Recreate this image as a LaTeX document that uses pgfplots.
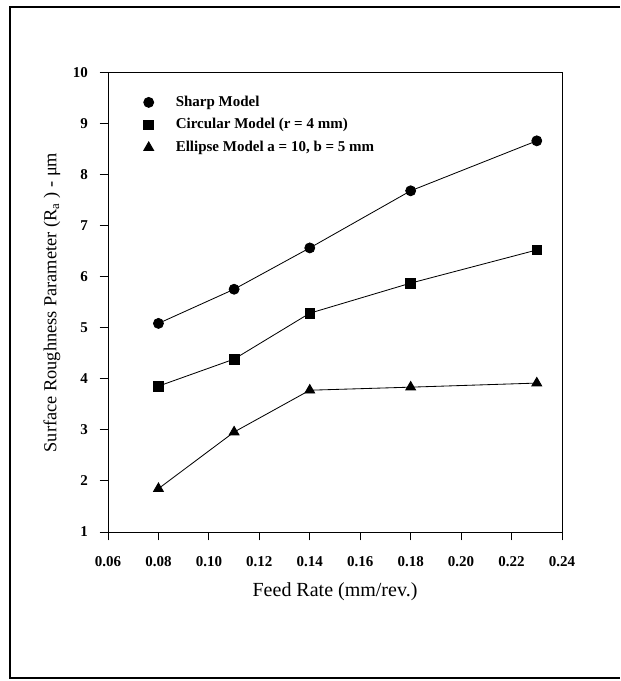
\documentclass[border=0pt]{standalone}
\usepackage{fontspec}
\setmainfont{Liberation Serif}
\usepackage{pgfplots}
\pgfplotsset{compat=1.18}

\begin{document}
\begin{tikzpicture}
  % page is 620x681 px, 1 px = 0.6pt, axis box at px (108..562, 73..532)
  \useasboundingbox (-64.8pt,-89.4pt) rectangle (307.2pt,319.2pt);
  \begin{axis}[
      at={(0pt,0pt)}, anchor=south west,
      scale only axis,
      width=272.4pt, height=275.4pt,
      xmin=0.06, xmax=0.24,
      ymin=1, ymax=10,
      xtick={0.06,0.08,...,0.241},
      ytick={1,...,10},
      axis line style={line width=0.6pt},
      tick align=outside,
      major tick length=5pt,
      tick style={line width=0.6pt, black},
      xtick pos=bottom, ytick pos=left,
      /pgf/number format/assume math mode=true,
      tick label style={font=\fontsize{9}{10}\selectfont\bfseries},
      xticklabel style={yshift=-6pt, /pgf/number format/.cd, fixed, fixed zerofill, precision=2},
      yticklabel style={xshift=-3.6pt},
      xlabel={Feed Rate (mm/rev.)},
      ylabel={Surface Roughness Parameter (R\textsubscript{a} ) - μm},
      xlabel style={font=\fontsize{12}{14}\selectfont,
        at={(axis description cs:0.5,0)}, anchor=center, yshift=-36pt},
      ylabel style={font=\fontsize{11}{13}\selectfont,
        at={(axis description cs:0,0.5)}, anchor=center, yshift=33.6pt},
      every axis plot/.append style={black, line width=0.5pt},
      legend image code/.code={
        \draw[#1] plot coordinates {(0pt,0pt)};
        \path (-6pt,0pt) (14pt,0pt);
      },
      legend style={
        at={(axis description cs:0.066,0.958)}, anchor=north west,
        draw=none, fill=none, inner sep=0pt, row sep=1.8pt,
        font=\fontsize{9}{10}\selectfont\bfseries,
        cells={anchor=west},
      },
    ]
    \addplot[mark=*, mark size=3pt] coordinates {
      (0.08,5.09) (0.11,5.76) (0.14,6.57) (0.18,7.69) (0.23,8.67)};
    \addplot[mark=square*, mark size=2.9pt] coordinates {
      (0.08,3.86) (0.11,4.39) (0.14,5.29) (0.18,5.88) (0.23,6.53)};
    \addplot[mark=triangle*, mark size=3.4pt] coordinates {
      (0.08,1.85) (0.11,2.96) (0.14,3.78) (0.18,3.84) (0.23,3.92)};
    \legend{Sharp Model, Circular Model (r = 4 mm), {Ellipse Model a = 10, b = 5 mm}}
  \end{axis}
  % scanned outer frame, right side off the page
  \draw[line width=1.2pt] (307.2pt,315pt) -- (-58.8pt,315pt) -- (-58.8pt,-87.6pt) -- (307.2pt,-87.6pt);
\end{tikzpicture}
\end{document}
